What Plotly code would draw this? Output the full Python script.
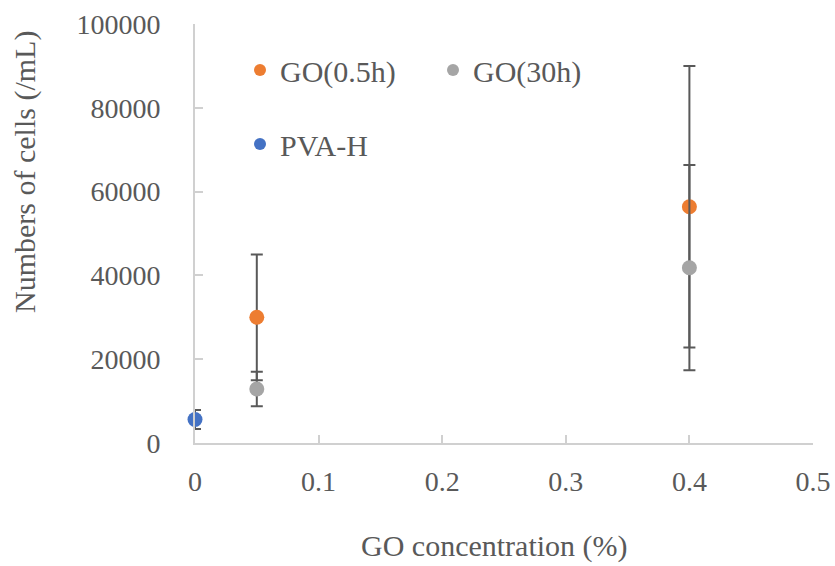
import plotly.graph_objects as go

# Data
go05_x = [0.05, 0.4]
go05_y = [30000, 56400]
go05_err = [15000, 33600]

go30_x = [0.05, 0.4]
go30_y = [12900, 41840]
go30_err = [4100, 24500]

pva_x = [0]
pva_y = [5600]
pva_err = [2250]

x_ticks = [0, 0.1, 0.2, 0.3, 0.4, 0.5]
x_tick_labels = ["0", "0.1", "0.2", "0.3", "0.4", "0.5"]
y_ticks = [0, 20000, 40000, 60000, 80000, 100000]
y_tick_labels = ["0", "20000", "40000", "60000", "80000", "100000"]

FONT = "Liberation Serif"
TXT = "#595959"
AX = "#d0d0d0"
W, H = 835, 566
L, R, T, B = 195, 22, 24, 123

def err(arr):
    return dict(type="data", array=arr, visible=True, color="#595959", thickness=2, width=6)

fig = go.Figure()
fig.add_trace(go.Scatter(x=go05_x, y=go05_y, mode="markers", name="GO(0.5h)",
                         marker=dict(color="#ED7D31", size=15), error_y=err(go05_err),
                         cliponaxis=False, legend="legend"))
fig.add_trace(go.Scatter(x=go30_x, y=go30_y, mode="markers", name="GO(30h)",
                         marker=dict(color="#A5A5A5", size=15), error_y=err(go30_err),
                         cliponaxis=False, legend="legend"))
fig.add_trace(go.Scatter(x=pva_x, y=pva_y, mode="markers", name="PVA-H",
                         marker=dict(color="#4472C4", size=15), error_y=err(pva_err),
                         cliponaxis=False, legend="legend2"))

pw = W - L - R
ph = H - T - B

def px_x(p):
    return (p - L) / pw

def px_y(p):
    return (H - B - p) / ph

tick_font = dict(family=FONT, size=28, color=TXT)
leg_font = dict(family=FONT, size=30, color=TXT)
title_font = dict(family=FONT, size=30, color=TXT)

fig.update_layout(
    width=W, height=H,
    margin=dict(l=L, r=R, t=T, b=B),
    paper_bgcolor="white", plot_bgcolor="white",
    font=tick_font,
    xaxis=dict(range=[0, 0.5], tickvals=x_ticks, ticktext=x_tick_labels,
               showgrid=False, zeroline=False, showline=True, linecolor=AX, linewidth=2,
               ticks="inside", ticklen=8, tickcolor=AX, tickwidth=2, automargin=False,
               ticklabelstandoff=12, tickfont=tick_font),
    yaxis=dict(range=[0, 100000], tickvals=y_ticks, ticktext=y_tick_labels,
               showgrid=False, zeroline=False, showline=True, linecolor=AX, linewidth=2,
               ticks="inside", ticklen=8, tickcolor=AX, tickwidth=2, automargin=False,
               ticklabelstandoff=27, tickfont=tick_font),
    legend=dict(orientation="h", xref="paper", yref="paper",
                x=px_x(240), y=px_y(70), xanchor="left", yanchor="middle",
                entrywidthmode="pixels", entrywidth=148, itemsizing="constant",
                bgcolor="rgba(0,0,0,0)", font=leg_font),
    legend2=dict(orientation="h", xref="paper", yref="paper",
                 x=px_x(240), y=px_y(144), xanchor="left", yanchor="middle",
                 itemsizing="constant",
                 bgcolor="rgba(0,0,0,0)", font=leg_font),
    annotations=[
        dict(text="GO concentration (%)", xref="paper", yref="paper",
             x=px_x(494), y=px_y(546), xanchor="center", yanchor="middle",
             showarrow=False, font=title_font),
        dict(text="Numbers of cells (/mL)", xref="paper", yref="paper",
             x=px_x(25), y=px_y(172), xanchor="center", yanchor="middle",
             textangle=-90, showarrow=False, font=title_font),
    ],
)

fig.write_html("out.html")
